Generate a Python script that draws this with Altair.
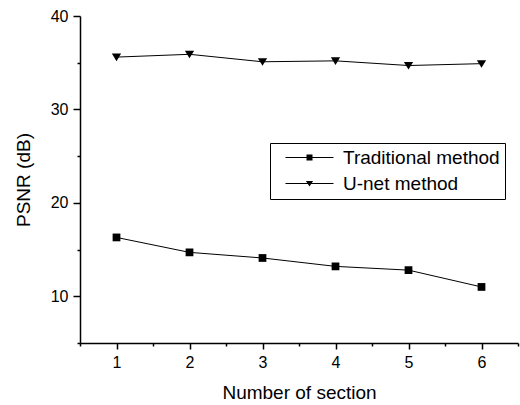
import altair as alt
import pandas as pd

sections = [1, 2, 3, 4, 5, 6]
traditional = [16.3, 14.7, 14.1, 13.2, 12.8, 11.0]
unet = [35.6, 35.9, 35.1, 35.2, 34.7, 34.9]
series_names = ["Traditional method", "U-net method"]
x_major = [1, 2, 3, 4, 5, 6]
x_minor = [0.5, 1.5, 2.5, 3.5, 4.5, 5.5, 6.5]
y_major = [10, 20, 30, 40]
y_minor = [5, 15, 25, 35]

rows = []
for name, vals in zip(series_names, [traditional, unet]):
    for s, v in zip(sections, vals):
        rows.append({"section": s, "psnr": v, "series": name})
df = pd.DataFrame(rows)

FONT = "Liberation Sans"
xscale = alt.Scale(domain=[0.5, 6.5], nice=False, zero=False)
yscale = alt.Scale(domain=[5, 40], nice=False, zero=False)

base = alt.Chart(df)

lines = base.mark_line(color="black", strokeWidth=1).encode(
    x=alt.X("section:Q", scale=xscale,
            axis=alt.Axis(values=x_major, title="Number of section", orient="bottom",
                          tickSize=6, labelPadding=5, titlePadding=13, format="d")),
    y=alt.Y("psnr:Q", scale=yscale,
            axis=alt.Axis(values=y_major, title="PSNR (dB)", orient="left",
                          tickSize=7, labelPadding=5, titlePadding=17, format="d")),
    detail="series:N",
)

marker_paths = ["square", "M-1.2,-0.9H1.2L0,1.05Z"]

points = base.mark_point(filled=True, size=60, opacity=1, color="black").encode(
    x=alt.X("section:Q", scale=xscale,
            axis=alt.Axis(values=x_minor, labels=False, title=None, tickSize=3,
                          domain=False, orient="bottom")),
    y=alt.Y("psnr:Q", scale=yscale,
            axis=alt.Axis(values=y_minor, labels=False, title=None, tickSize=3,
                          domain=False, orient="left")),
    shape=alt.Shape("series:N",
                    scale=alt.Scale(domain=series_names, range=marker_paths),
                    legend=None),
)

legend_paths = [
    "M-4,-0.085H4V0.085H-4Z M-0.5,-0.5H0.5V0.5H-0.5Z",
    "M-4,-0.085H4V0.085H-4Z M-0.6,-0.42H0.6L0,0.5Z",
]

legend_layer = base.transform_filter("false").mark_point(
    filled=True, size=144, opacity=1, color="black"
).encode(
    x=alt.X("section:Q", scale=xscale, axis=None),
    y=alt.Y("psnr:Q", scale=yscale, axis=None),
    shape=alt.Shape("series:N",
                    scale=alt.Scale(domain=series_names, range=legend_paths),
                    legend=alt.Legend(title=None, orient="none", legendX=190, legendY=127,
                                      symbolSize=144, symbolFillColor="black",
                                      labelFontSize=19, labelFont=FONT, labelColor="black",
                                      labelExpr="datum.label + '\u00a0\u200a'",
                                      labelOffset=24, symbolOffset=25, padding=5,
                                      rowPadding=6, strokeColor="black", fillColor="white")),
)

chart = alt.layer(lines, points, legend_layer).resolve_axis(
    x="independent", y="independent"
).resolve_scale(shape="independent").resolve_legend(shape="independent").properties(
    width=438, height=327,
    autosize=alt.AutoSizeParams(type="none"),
    padding={"left": 80, "top": 16, "right": 2, "bottom": 62},
).configure_view(stroke=None).configure_axis(
    grid=False, domainColor="black", domainWidth=1.5, tickColor="black", tickWidth=1.5,
    labelFont=FONT, labelFontSize=16, labelColor="black",
    titleFont=FONT, titleFontSize=19, titleColor="black", titleFontWeight="normal",
).configure_legend(cornerRadius=0)

chart.save("out.html", embed_options={"renderer": "svg", "actions": False})
